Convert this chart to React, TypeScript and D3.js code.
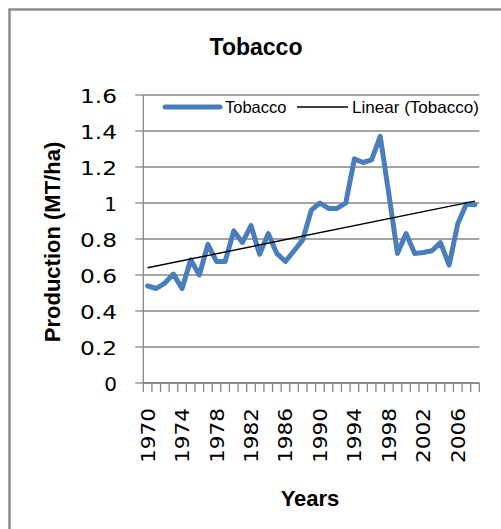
import React from "react";
import * as d3 from "d3";

// Annual tobacco production (MT/ha), 1970–2008
const years: number[] = d3.range(1970, 2009);
const production: number[] = [
  0.54, 0.525, 0.555, 0.605, 0.525, 0.685, 0.6, 0.77, 0.675, 0.675,
  0.845, 0.78, 0.875, 0.715, 0.83, 0.72, 0.675, 0.735, 0.795, 0.96,
  1.0, 0.97, 0.97, 1.0, 1.245, 1.225, 1.24, 1.37, 1.05, 0.72,
  0.83, 0.72, 0.725, 0.735, 0.78, 0.655, 0.885, 0.995, 0.99,
];
const yTicks: number[] = [0, 0.2, 0.4, 0.6, 0.8, 1, 1.2, 1.4, 1.6];
const xLabelYears: number[] = [1970, 1974, 1978, 1982, 1986, 1990, 1994, 1998, 2002, 2006];

const W = 501;
const H = 529;
const plot = { left: 143.3, right: 479.3, top: 95, bottom: 383 };

const BLUE = "#4A7EBB";
const GRID = "#868686";
const SANS = "'Liberation Sans', Arial, sans-serif";
const TICK_FONT = "'DejaVu Sans', sans-serif";

export default function App() {
  const x = d3
    .scaleBand<number>()
    .domain(years)
    .range([plot.left, plot.right])
    .paddingInner(0)
    .paddingOuter(0);
  const cx = (yr: number) => (x(yr) as number) + x.bandwidth() / 2;
  const y = d3.scaleLinear().domain([0, 1.6]).range([plot.bottom, plot.top]);

  const points: [number, number][] = years.map((yr, i) => [yr, production[i]]);
  const line = d3
    .line<[number, number]>()
    .x((d) => cx(d[0]))
    .y((d) => y(d[1]));

  // Least-squares linear trend over the series
  const idx = years.map((_, i) => i + 1);
  const mx = d3.mean(idx) as number;
  const my = d3.mean(production) as number;
  const sxy = d3.sum(idx, (v, i) => (v - mx) * (production[i] - my));
  const sxx = d3.sum(idx, (v) => (v - mx) * (v - mx));
  const slope = sxy / sxx;
  const intercept = my - slope * mx;
  const trend: [number, number][] = [
    [years[0], intercept + slope * idx[0]],
    [years[years.length - 1], intercept + slope * idx[idx.length - 1]],
  ];

  const tickEdges = d3.range(years.length + 1).map((i) => plot.left + i * x.bandwidth());
  const fmt = d3.format("~g");

  return (
    <svg width={W} height={H} style={{ position: "absolute", left: 0, top: 0 }}>
      <rect x={0} y={0} width={W} height={H} fill="#fff" />
      {/* chart-area frame */}
      <rect x={9.5} y={9.5} width={W + 10} height={H + 10} fill="none" stroke="#8c8c8c" strokeWidth={2.5} />

      {/* title */}
      <text x={256} y={55} textAnchor="middle" fontFamily={SANS} fontWeight="bold" fontSize={23}>
        Tobacco
      </text>

      {/* gridlines */}
      {yTicks.map((t) => (
        <line key={`g${t}`} x1={plot.left} x2={plot.right} y1={y(t)} y2={y(t)} stroke={GRID} strokeWidth={1.3} />
      ))}

      {/* y axis */}
      <line x1={plot.left} x2={plot.left} y1={plot.top} y2={plot.bottom} stroke={GRID} strokeWidth={1.3} />
      {yTicks.map((t) => {
        const label = fmt(t);
        return (
          <g key={`y${t}`}>
            <line x1={plot.left - 8} x2={plot.left} y1={y(t)} y2={y(t)} stroke={GRID} strokeWidth={1.3} />
            <text
              x={117}
              y={y(t)}
              dy="0.38em"
              textAnchor="end"
              fontFamily={TICK_FONT}
              fontSize={20}
              fill="#000"
              {...(label.length > 1 ? { textLength: 37, lengthAdjust: "spacingAndGlyphs" } : {})}
            >
              {label}
            </text>
          </g>
        );
      })}

      {/* x axis */}
      <line x1={plot.left} x2={plot.right} y1={plot.bottom} y2={plot.bottom} stroke={GRID} strokeWidth={1.3} />
      {tickEdges.map((e, i) => (
        <line key={`xt${i}`} x1={e} x2={e} y1={plot.bottom} y2={plot.bottom + 9} stroke={GRID} strokeWidth={1.3} />
      ))}
      {xLabelYears.map((yr) => (
        <text
          key={`xl${yr}`}
          transform={`translate(${cx(yr) + 7},408) rotate(-90)`}
          textAnchor="end"
          fontFamily={TICK_FONT}
          fontSize={19}
          textLength={55}
          lengthAdjust="spacingAndGlyphs"
        >
          {yr}
        </text>
      ))}

      {/* axis titles */}
      <text x={310} y={506} textAnchor="middle" fontFamily={SANS} fontWeight="bold" fontSize={22}>
        Years
      </text>
      <text
        transform={`translate(60,${(plot.top + plot.bottom) / 2 + 3}) rotate(-90)`}
        textAnchor="middle"
        fontFamily={SANS}
        fontWeight="bold"
        fontSize={22}
      >
        Production (MT/ha)
      </text>

      {/* series */}
      <path d={line(points) || ""} fill="none" stroke={BLUE} strokeWidth={5} strokeLinejoin="round" strokeLinecap="round" />
      <path d={line(trend) || ""} fill="none" stroke="#000" strokeWidth={1.4} />

      {/* legend */}
      <line x1={165} x2={220} y1={107} y2={107} stroke={BLUE} strokeWidth={5} strokeLinecap="round" />
      <text x={225} y={113} fontFamily={SANS} fontSize={16.5}>Tobacco</text>
      <line x1={297} x2={348} y1={107} y2={107} stroke="#000" strokeWidth={1.4} />
      <text x={352} y={113} fontFamily={SANS} fontSize={16.5} textLength={127} lengthAdjust="spacingAndGlyphs">
        Linear (Tobacco)
      </text>
    </svg>
  );
}
